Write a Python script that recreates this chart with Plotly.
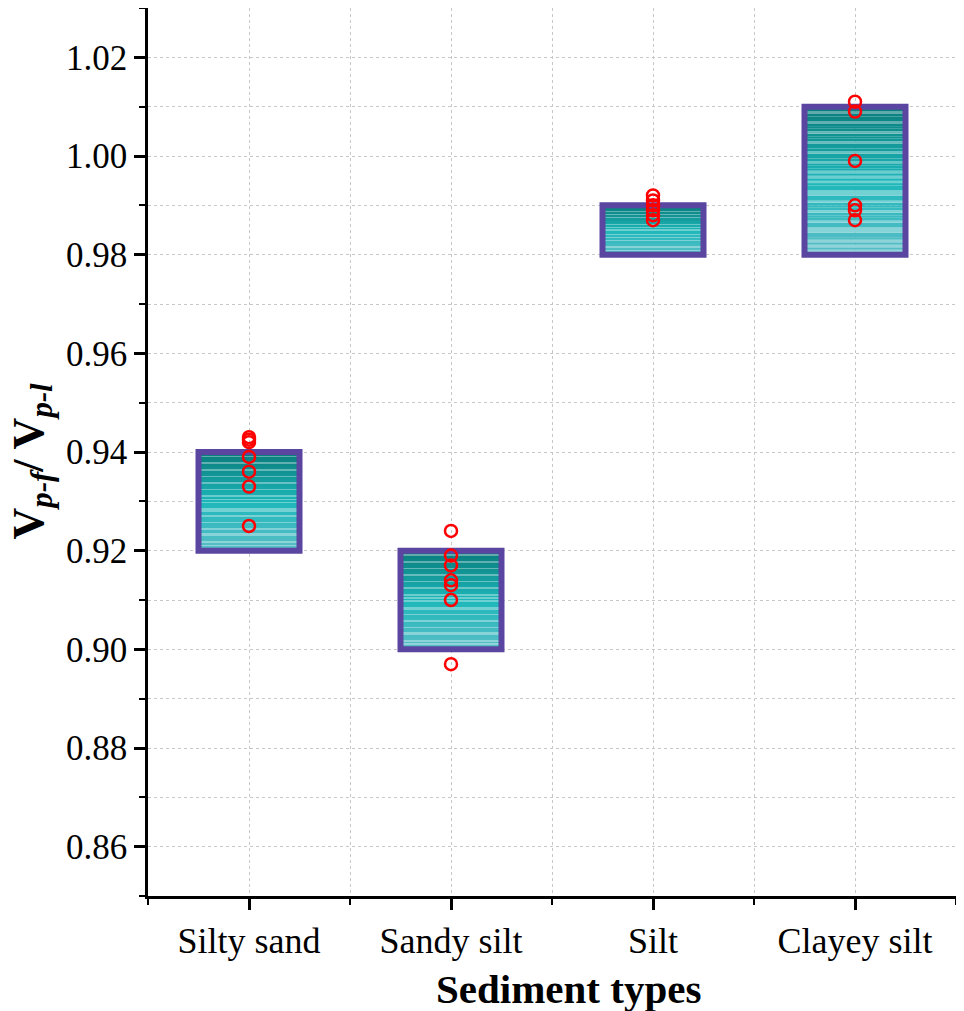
import plotly.graph_objects as go

categories = ["Silty sand", "Sandy silt", "Silt", "Clayey silt"]
box_low = [0.92, 0.90, 0.98, 0.98]
box_high = [0.94, 0.92, 0.99, 1.01]
pts_silty_sand = [0.943, 0.9425, 0.942, 0.939, 0.936, 0.933, 0.925]
pts_sandy_silt = [0.924, 0.919, 0.917, 0.914, 0.913, 0.910, 0.897]
pts_silt = [0.992, 0.991, 0.990, 0.989, 0.988, 0.987]
pts_clayey_silt = [1.011, 1.009, 0.999, 0.990, 0.989, 0.987]
all_points = [pts_silty_sand, pts_sandy_silt, pts_silt, pts_clayey_silt]
ytick_vals = [0.86, 0.88, 0.90, 0.92, 0.94, 0.96, 0.98, 1.00, 1.02]

FONT = "Liberation Serif"
xpos = list(range(len(categories)))


def lerp(c1, c2, t):
    return tuple(a + (b - a) * t for a, b in zip(c1, c2))


bottom_c = (92, 190, 200)
mid_c = (30, 184, 186)
top_c = (10, 123, 123)


def grad(f):
    if f < 0.5:
        return lerp(bottom_c, mid_c, f / 0.5)
    return lerp(mid_c, top_c, (f - 0.5) / 0.5)


fig = go.Figure()

# gradient stripes inside boxes
N = 60
sx, sbase, sh, scol = [], [], [], []
for i, (lo, hi) in enumerate(zip(box_low, box_high)):
    h = (hi - lo) / N
    for k in range(N):
        f = (k + 0.5) / N
        c = grad(f)
        if k % 4 == 1 or (k % 7 == 3 and f < 0.6):
            c = lerp(c, (255, 255, 255), 0.35)
        sx.append(xpos[i])
        sbase.append(lo + k * h)
        sh.append(h * 1.02)
        scol.append("rgb(%d,%d,%d)" % tuple(int(v) for v in c))

fig.add_trace(go.Bar(x=sx, y=sh, base=sbase, width=0.5,
                     marker=dict(color=scol, line=dict(width=0)),
                     hoverinfo="skip", showlegend=False))

# box outlines
fig.add_trace(go.Bar(x=xpos, y=[h - l for l, h in zip(box_low, box_high)], base=box_low,
                     width=0.5,
                     marker=dict(color="rgba(0,0,0,0)", line=dict(color="#5a45a0", width=6)),
                     hoverinfo="skip", showlegend=False))

# points
px, py = [], []
for i, pts in enumerate(all_points):
    px += [xpos[i]] * len(pts)
    py += pts
fig.add_trace(go.Scatter(x=px, y=py, mode="markers",
                         marker=dict(symbol="circle-open", size=12, color="#ff0000",
                                     line=dict(width=2.5, color="#ff0000")),
                         showlegend=False))

fig.update_layout(
    width=956, height=1003,
    margin=dict(l=140, r=8, t=0, b=115, autoexpand=False),
    paper_bgcolor="white", plot_bgcolor="white",
    barmode="overlay",
    font=dict(family=FONT, color="black", size=35),
    annotations=[
        dict(text="<b>Sediment types</b>", xref="paper", yref="paper",
             x=0.521, y=-0.105, xanchor="center", yanchor="middle",
             showarrow=False, font=dict(size=41, family=FONT)),
        dict(text="<b>V<sub><i>p-f</i></sub>/ V<sub><i>p-l</i></sub></b>",
             xref="paper", yref="paper", x=-0.144, y=0.49, textangle=-90,
             xanchor="center", yanchor="middle", showarrow=False,
             font=dict(size=44, family=FONT)),
    ],
)

grid_style = dict(gridcolor="#c8c8c8", griddash="dot", gridwidth=1)

fig.update_xaxes(
    range=[-0.5, 3.5], tickmode="array", tickvals=xpos, ticktext=categories,
    showline=True, linecolor="black", linewidth=2.5, mirror=True,
    ticks="outside", ticklen=11, tickwidth=2.5, tickcolor="black",
    showgrid=True, **grid_style, zeroline=False,
    tickfont=dict(size=36, family=FONT),
    minor=dict(tickvals=[-0.5, 0.5, 1.5, 2.5, 3.5], ticks="outside", ticklen=6,
               tickwidth=2, tickcolor="black", showgrid=True, **grid_style),
)
fig.update_yaxes(
    range=[0.85, 1.03], tickmode="array", tickvals=ytick_vals,
    ticktext=["%.2f" % v for v in ytick_vals],
    showline=True, linecolor="black", linewidth=2.5, mirror=True,
    ticks="outside", ticklen=11, tickwidth=2.5, tickcolor="black",
    showgrid=True, **grid_style, zeroline=False,
    tickfont=dict(size=35, family=FONT),
    minor=dict(dtick=0.01, tick0=0.85, ticks="outside", ticklen=6, tickwidth=2,
               tickcolor="black", showgrid=True, **grid_style),
)

fig.write_html("out.html")
